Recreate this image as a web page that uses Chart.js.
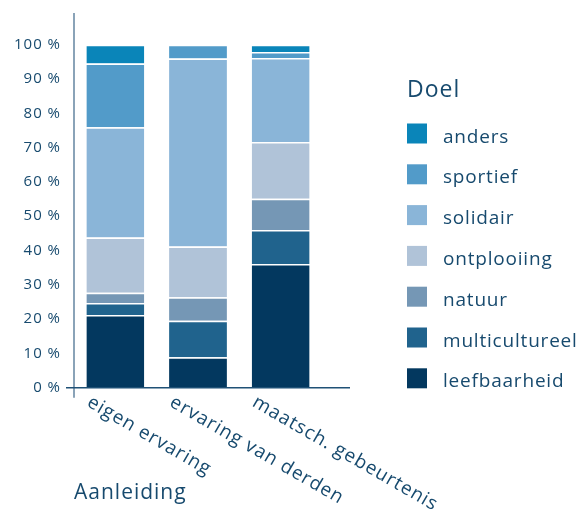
<!DOCTYPE html>
<html>
<head>
  <meta charset="utf-8">
  <title>Doel per aanleiding</title>
  <script src="https://cdn.jsdelivr.net/npm/chart.js"></script>
  <style>
    html, body { margin: 0; padding: 0; background: #fff; }
    #wrap { width: 583px; height: 511px; }
  </style>
</head>
<body>
  <div id="wrap"><canvas id="chart" width="583" height="511"></canvas></div>

  <script>
    // categories (x axis) and series, bottom of the stack first
    const categories = ['eigen ervaring', 'ervaring van derden', 'maatsch. gebeurtenis'];
    const seriesNames = ['leefbaarheid', 'multicultureel', 'natuur', 'ontplooiing', 'solidair', 'sportief', 'anders'];
    const seriesColors = ['#03385f', '#20638d', '#7597b5', '#b0c3d8', '#8ab5d8', '#529bc9', '#0a85b9'];

    // share in % per category
    const leefbaarheid   = [21.2,  8.9, 36.1];
    const multicultureel = [ 3.5, 10.6,  9.9];
    const natuur         = [ 3.0,  6.9,  9.1];
    const ontplooiing    = [16.1, 14.8, 16.5];
    const solidair       = [32.1, 54.8, 24.5];
    const sportief       = [18.6,  4.0,  1.8];
    const anders         = [ 5.5,  0.0,  2.1];
    const seriesValues = [leefbaarheid, multicultureel, natuur, ontplooiing, solidair, sportief, anders];

    const yTicks = [0, 10, 20, 30, 40, 50, 60, 70, 80, 90, 100];
    const xTitle = 'Aanleiding';
    const legendTitle = 'Doel';

    const textColor = '#174a6e';
    const fontFamily = "'Open Sans', 'Noto Sans', sans-serif";
    Chart.defaults.font.family = fontFamily;
    Chart.defaults.color = textColor;

    // the original font is wider, so spread the letters a bit
    const spacing = {
      id: 'spacing',
      beforeDraw(chart) { chart.ctx.letterSpacing = '1px'; }
    };

    // axes, slanted category labels, axis title and legend
    const decorations = {
      id: 'decorations',
      afterDraw(chart) {
        const { ctx, chartArea: a, scales: { x } } = chart;
        ctx.save();

        // y axis line
        ctx.lineWidth = 1.5;
        ctx.strokeStyle = '#6384a0';
        ctx.beginPath();
        ctx.moveTo(a.left, 13);
        ctx.lineTo(a.left, a.bottom + 10);
        ctx.stroke();

        // x axis line
        ctx.strokeStyle = '#1f5176';
        ctx.beginPath();
        ctx.moveTo(a.left - 8, a.bottom);
        ctx.lineTo(a.right + 28, a.bottom);
        ctx.stroke();

        // category labels, slanted downwards
        ctx.fillStyle = textColor;
        ctx.font = '19px ' + fontFamily;
        ctx.letterSpacing = '1px';
        ctx.textAlign = 'left';
        ctx.textBaseline = 'top';
        categories.forEach((c, i) => {
          const px = x.getPixelForValue(i);
          ctx.save();
          ctx.translate(px - 22, a.bottom + 5);
          ctx.rotate(30 * Math.PI / 180);
          ctx.fillText(c, 0, 0);
          ctx.restore();
        });

        // x axis title
        ctx.font = '21px ' + fontFamily;
        ctx.letterSpacing = '1px';
        ctx.textBaseline = 'alphabetic';
        ctx.fillText(xTitle, a.left, 499);

        // legend, top entry first
        ctx.font = '23px ' + fontFamily;
        ctx.fillText(legendTitle, 407, 97);
        ctx.font = '19px ' + fontFamily;
        ctx.letterSpacing = '0.8px';
        const order = chart.data.datasets.map((d, i) => i).reverse();
        order.forEach((di, k) => {
          const ds = chart.data.datasets[di];
          const top = 123.5 + k * 40.8;
          ctx.fillStyle = ds.backgroundColor;
          ctx.fillRect(407, top, 20, 20);
          ctx.fillStyle = textColor;
          ctx.fillText(ds.label, 443, top + 19);
        });

        ctx.restore();
      }
    };

    new Chart(document.getElementById('chart'), {
      type: 'bar',
      data: {
        labels: categories,
        datasets: seriesNames.map((name, i) => ({
          label: name,
          data: seriesValues[i],
          backgroundColor: seriesColors[i],
          borderColor: '#ffffff',
          borderWidth: { top: 1.5, bottom: 0, left: 0, right: 0 },
          borderSkipped: 'start'
        }))
      },
      options: {
        responsive: false,
        animation: false,
        layout: { padding: { top: 44.7, right: 261, left: 0, bottom: 0 } },
        datasets: { bar: { categoryPercentage: 1, barPercentage: 0.7 } },
        plugins: {
          legend: { display: false },
          tooltip: { enabled: false }
        },
        scales: {
          x: {
            stacked: true,
            grid: { display: false },
            border: { display: false },
            ticks: { display: false },
            afterFit: s => { s.height = 123.3; }
          },
          y: {
            stacked: true,
            min: 0,
            max: 100,
            grid: { display: false, drawTicks: false },
            border: { display: false },
            afterBuildTicks: s => { s.ticks = yTicks.map(v => ({ value: v })); },
            afterFit: s => { s.width = 74; },
            ticks: {
              padding: 13,
              color: textColor,
              font: { size: 15 },
              callback: v => v + ' %'
            }
          }
        }
      },
      plugins: [spacing, decorations]
    });
  </script>
</body>
</html>
